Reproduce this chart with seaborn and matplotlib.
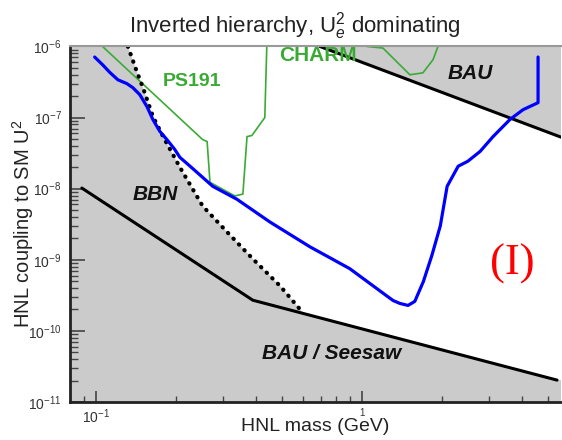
import matplotlib
matplotlib.use('Agg')
import matplotlib.pyplot as plt
import seaborn as sns
from matplotlib.ticker import FixedLocator, NullFormatter

# HNL sensitivity plot, inverted hierarchy
blue_mass = [0.099, 0.1062, 0.113, 0.121, 0.1309, 0.1378, 0.1463, 0.1556, 0.1638, 0.174, 0.185, 0.198,
             0.2069, 0.226, 0.275, 0.339, 0.451, 0.638, 0.90, 1.24, 1.31, 1.39, 1.49, 1.58, 1.70, 1.83,
             1.97, 2.09, 2.30, 2.50, 2.78, 3.11, 3.60, 4.03, 4.59, 4.59]
blue_u2 = [7.1e-7, 5.5e-7, 4.3e-7, 3.4e-7, 3.0e-7, 2.63e-7, 2.1e-7, 1.43e-7, 9.4e-8, 6.4e-8, 4.9e-8, 3.56e-8,
           2.76e-8, 2.07e-8, 1.08e-8, 7.1e-9, 3.4e-9, 1.52e-9, 7.5e-10, 3.1e-10, 2.67e-10, 2.43e-10, 2.28e-10,
           2.6e-10, 4.9e-10, 1.14e-9, 3.0e-9, 1.08e-8, 2.07e-8, 2.43e-8, 3.34e-8, 5.4e-8, 9.4e-8, 1.29e-7,
           1.62e-7, 7.1e-7]

bbn_mass = [0.132, 0.143, 0.150, 0.164, 0.179, 0.207, 0.252, 0.311, 0.389, 0.492, 0.600]
bbn_u2 = [1e-6, 4.3e-7, 2.7e-7, 1.03e-7, 5.4e-8, 2.0e-8, 5.7e-9, 2.47e-9, 1.03e-9, 4.3e-10, 1.8e-10]

seesaw_mass = [0.0886, 0.389, 5.41]
seesaw_u2 = [1.02e-8, 2.7e-10, 2.03e-11]

bau_mass = [0.695, 5.6]
bau_u2 = [1e-6, 5.3e-8]

ps191_mass = [0.106, 0.252, 0.262, 0.2685, 0.333, 0.357, 0.370, 0.386, 0.4315, 0.439]
ps191_u2 = [1e-6, 4.9e-8, 4.6e-8, 1.23e-8, 7.9e-9, 8.4e-9, 5.4e-8, 5.6e-8, 1.0e-7, 1e-6]

charm_mass = [1.044, 1.199, 1.514, 1.695, 1.849, 1.931]
charm_u2 = [1e-6, 9.5e-7, 4.0e-7, 4.26e-7, 6.5e-7, 1e-6]

y_major = [1e-11, 1e-10, 1e-9, 1e-8, 1e-7, 1e-6]
y_labels = [r'$10^{-11}$', r'$10^{-10}$', r'$10^{-9}$', r'$10^{-8}$', r'$10^{-7}$', r'$10^{-6}$']
x_major = [0.1, 1]
x_labels = [r'$10^{-1}$', '1']
x_minor = [0.09, 0.2, 0.3, 0.4, 0.5, 0.6, 0.7, 0.8, 0.9, 2, 3, 4, 5]

sns.set_theme(style='ticks')
plt.rcParams['font.family'] = ['Liberation Sans', 'DejaVu Sans']
plt.rcParams['mathtext.fontset'] = 'custom'
plt.rcParams['mathtext.rm'] = 'Liberation Sans'
plt.rcParams['mathtext.it'] = 'Liberation Sans:italic'
plt.rcParams['mathtext.bf'] = 'Liberation Sans:bold'

fig = plt.figure(figsize=(5.62, 4.4), dpi=100)
ax = fig.add_axes([0.1246, 0.0864, 0.8737, 0.808])
ax.set_xscale('log')
ax.set_yscale('log')
ax.set_xlim(0.08, 5.6)
ax.set_ylim(1e-11, 1e-6)
ax.set_facecolor('#cbcbcb')

# allowed (white) region between BBN, seesaw and BAU bounds
white_x = bbn_mass + [seesaw_mass[-1], bau_mass[-1], bau_mass[-1], bau_mass[0]]
white_y = bbn_u2 + [seesaw_u2[-1], seesaw_u2[-1], bau_u2[-1], bau_u2[0]]
ax.fill(white_x, white_y, color='white', lw=0, zorder=0.5)

sns.lineplot(x=ps191_mass, y=ps191_u2, sort=False, estimator=None, color='#3aaa35', lw=1.2, ax=ax)
sns.lineplot(x=charm_mass, y=charm_u2, sort=False, estimator=None, color='#3aaa35', lw=1.2, ax=ax)
sns.lineplot(x=seesaw_mass, y=seesaw_u2, sort=False, estimator=None, color='black', lw=2.2, ax=ax)
sns.lineplot(x=bau_mass, y=bau_u2, sort=False, estimator=None, color='black', lw=2.2, ax=ax)
sns.lineplot(x=bbn_mass, y=bbn_u2, sort=False, estimator=None, color='black', lw=3,
             linestyle=(0, (0.1, 1.8)), dash_capstyle='round', ax=ax)
sns.lineplot(x=blue_mass, y=blue_u2, sort=False, estimator=None, color='#0000ff', lw=2.3, ax=ax)

ax.text(0.2296, 3.2e-7, 'PS191', color='#3aaa35', fontsize=14, fontweight='bold', ha='center', va='center')
ax.text(0.684, 7.4e-7, 'CHARM', color='#3aaa35', fontsize=15, fontweight='bold', ha='center', va='center')
ax.text(2.55, 4.1e-7, 'BAU', color='#111111', fontsize=15, fontweight='bold', style='italic', ha='center', va='center')
ax.text(0.168, 8.4e-9, 'BBN', color='#111111', fontsize=15, fontweight='bold', style='italic', ha='center', va='center')
ax.text(0.771, 4.8e-11, 'BAU / Seesaw', color='#111111', fontsize=15, fontweight='bold', style='italic',
        ha='center', va='center')
ax.text(3.66, 8.8e-10, '(I)', color='red', fontsize=32, family='Liberation Serif', ha='center', va='center')

ax.set_xticks(x_major)
ax.set_xticklabels(x_labels)
ax.get_xticklabels()[1].set_fontsize(7)
ax.xaxis.set_minor_locator(FixedLocator(x_minor))
ax.xaxis.set_minor_formatter(NullFormatter())
ax.set_yticks(y_major)
ax.set_yticklabels(y_labels)
ax.yaxis.set_minor_locator(FixedLocator([m * d for d in y_major[:-1] for m in range(2, 10)]))
ax.yaxis.set_minor_formatter(NullFormatter())

ax.tick_params(which='both', direction='in', color='#444444', labelcolor='#333333', labelsize=10)
ax.tick_params(axis='y', which='major', length=11, width=1.2, pad=6)
ax.tick_params(axis='y', which='minor', length=6, width=1)
ax.tick_params(axis='x', which='major', length=8, width=1.2, pad=4)
ax.tick_params(axis='x', which='minor', length=4, width=1)
ax.get_xticklabels()[1].set_fontsize(7)

for s in ['left', 'bottom']:
    ax.spines[s].set_color('#222222')
    ax.spines[s].set_linewidth(2)
ax.spines['top'].set_color('#999999')
ax.spines['top'].set_linewidth(1.5)
ax.spines['right'].set_visible(False)

ax.set_xlabel('HNL mass (GeV)', fontsize=14, color='#222222')
ax.xaxis.set_label_coords(0.5, -0.045)
ax.set_ylabel('HNL coupling to SM U$^{2}$', fontsize=14.5, color='#222222')
ax.yaxis.set_label_coords(-0.069, 0.5)

fig.text(0.525, 1 - 32 / 440, r'Inverted hierarchy, U$_{e}^{2}$ dominating', ha='center', va='baseline',
         fontsize=16, color='#222222')

fig.savefig('out.png', dpi=100)
